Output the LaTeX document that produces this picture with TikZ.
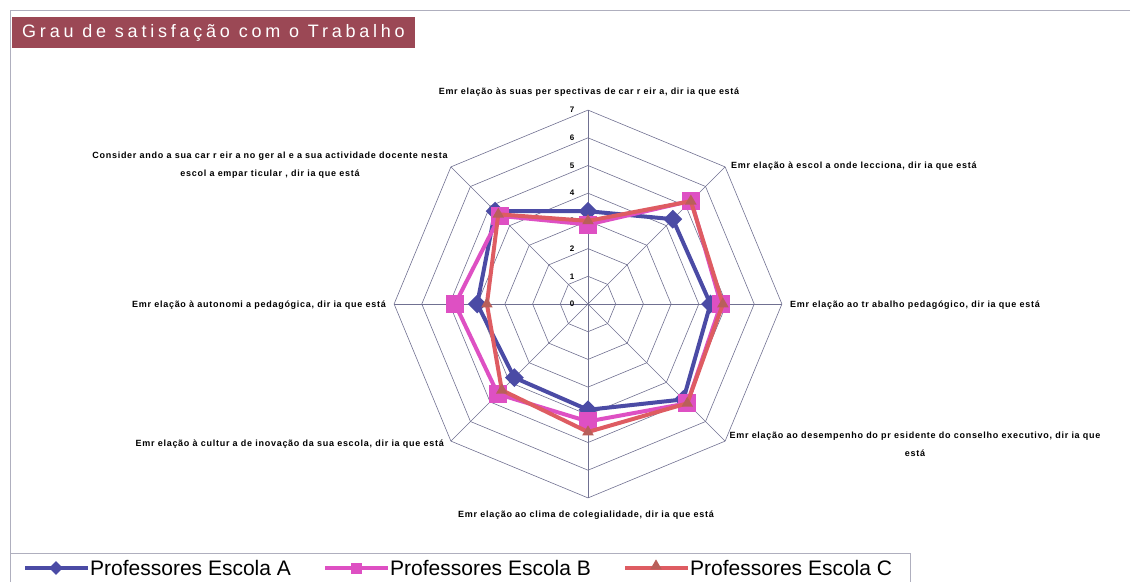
\documentclass[tikz,border=0pt]{standalone}
\usepackage{fontspec}
\setmainfont{Liberation Sans}
\newfontfamily\titlefont{Liberation Sans}[LetterSpace=21]
\newfontfamily\axisfont{Liberation Sans}[LetterSpace=8]
\usetikzlibrary{shapes.geometric}
\definecolor{titlec}{RGB}{155,72,85}
\definecolor{gridc}{RGB}{112,112,145}
\definecolor{framec}{RGB}{175,175,190}
\definecolor{serA}{RGB}{75,75,165}
\definecolor{serB}{RGB}{222,80,195}
\definecolor{serC}{RGB}{222,92,98}
\definecolor{triC}{RGB}{185,95,90}
\tikzset{
  grid/.style={draw=gridc,line width=0.6pt},
  axislabel/.style={font=\axisfont\bfseries\fontsize{9}{18}\selectfont,inner sep=0pt},
  ticklabel/.style={font=\bfseries\fontsize{8}{9}\selectfont,inner sep=0pt},
  serieA/.style={draw=serA,line width=4pt,line join=round},
  serieB/.style={draw=serB,line width=4pt,line join=round},
  serieC/.style={draw=serC,line width=4pt,line join=round},
  markA/.style={diamond,fill=serA,minimum width=19pt,minimum height=19pt,inner sep=0pt},
  markB/.style={rectangle,fill=serB,minimum size=18pt,inner sep=0pt},
  markC/.style={isosceles triangle,isosceles triangle apex angle=60,shape border rotate=90,
    fill=triC,minimum height=10pt,inner sep=0pt},
  legtext/.style={font=\fontsize{21}{22}\selectfont,anchor=west,inner sep=0pt}
}
\begin{document}
\begin{tikzpicture}[x=1pt,y=-1pt]
\useasboundingbox (0,0) rectangle (1132,583);
% frame
\draw[framec,line width=0.8pt] (1130,10) -- (10,10) -- (10,553);
\node[fill=titlec,text=white,font=\titlefont\fontsize{18}{19}\selectfont,
  minimum width=403pt,minimum height=31pt,inner sep=0pt] (title) at (213.5,32.5)
  {Grau de satisfação com o Trabalho};

% radar
\begin{scope}[shift={(588,304)},x=27.7pt,y=27.7pt]
  \foreach \r in {1,...,7}
    \draw[grid] (90:\r) \foreach \k in {1,...,7} { -- ({90-45*\k}:\r) } -- cycle;
  \foreach \k in {0,...,7} {
    \coordinate (s\k) at ({90-45*\k}:7);
    \draw[grid] (0,0) -- (s\k);
  }
  \foreach \r in {0,...,7}
    \node[ticklabel,xshift=-16pt] (t\r) at (90:\r) {\r};

  % Escola A
  \foreach \v [count=\i] in {3.35,4.33,4.42,4.87,3.82,3.76,4.0,4.74}
    \coordinate (a\i) at ({90-45*(\i-1)}:\v);
  \draw[serieA] (a1) -- (a2) -- (a3) -- (a4) -- (a5) -- (a6) -- (a7) -- (a8) -- cycle;
  \foreach \i in {1,...,8} \node[markA] (ma\i) at (a\i) {};
  % Escola B
  \foreach \v [count=\i] in {2.87,5.27,4.8,5.07,4.24,4.6,4.8,4.5}
    \coordinate (b\i) at ({90-45*(\i-1)}:\v);
  \draw[serieB] (b1) -- (b2) -- (b3) -- (b4) -- (b5) -- (b6) -- (b7) -- (b8) -- cycle;
  \foreach \i in {1,...,8} \node[markB] (mb\i) at (b\i) {};
  % Escola C
  \foreach \v [count=\i] in {3.0,5.25,4.87,5.07,4.62,4.4,3.65,4.58}
    \coordinate (c\i) at ({90-45*(\i-1)}:\v);
  \draw[serieC] (c1) -- (c2) -- (c3) -- (c4) -- (c5) -- (c6) -- (c7) -- (c8) -- cycle;
  \foreach \i in {1,...,8} \node[markC] (mc\i) at (c\i) {};
\end{scope}

% axis labels
\node[axislabel] (l1) at (589,92) {Emr elação às suas per spectivas de car r eir a, dir ia que está};
\node[axislabel,anchor=west] (l2) at (731,166) {Emr elação à escol a onde lecciona, dir ia que está};
\node[axislabel,anchor=west] (l3) at (790,305) {Emr elação ao tr abalho pedagógico, dir ia que está};
\node[axislabel,align=center] (l4) at (915,444) {Emr elação ao desempenho do pr esidente do conselho executivo, dir ia que\\está};
\node[axislabel] (l5) at (586,515) {Emr elação ao clima de colegialidade, dir ia que está};
\node[axislabel,anchor=east] (l6) at (444,444) {Emr elação à cultur a de inovação da sua escola, dir ia que está};
\node[axislabel,anchor=east] (l7) at (386,305) {Emr elação à autonomi a pedagógica, dir ia que está};
\node[axislabel,align=center] (l8) at (270,165) {Consider ando a sua car r eir a no ger al e a sua actividade docente nesta\\escol a empar ticular , dir ia que está};

% legend
\draw[framec,line width=0.8pt] (10,582) -- (10,553) -- (910,553) -- (910,582);
\coordinate (la1) at (25,568); \coordinate (la2) at (88,568);
\coordinate (lb1) at (325,568); \coordinate (lb2) at (388,568);
\coordinate (lc1) at (625,568); \coordinate (lc2) at (688,568);
\draw[serieA] (la1) -- (la2);
\node[markA,minimum width=14pt,minimum height=14pt] (lma) at (56,568) {};
\node[legtext] (lta) at (90,568) {Professores Escola A};
\draw[serieB] (lb1) -- (lb2);
\node[markB,minimum size=11pt] (lmb) at (356,568) {};
\node[legtext] (ltb) at (390,568) {Professores Escola B};
\draw[serieC] (lc1) -- (lc2);
\node[markC] (lmc) at (656,566) {};
\node[legtext] (ltc) at (690,568) {Professores Escola C};
\end{tikzpicture}
\end{document}
